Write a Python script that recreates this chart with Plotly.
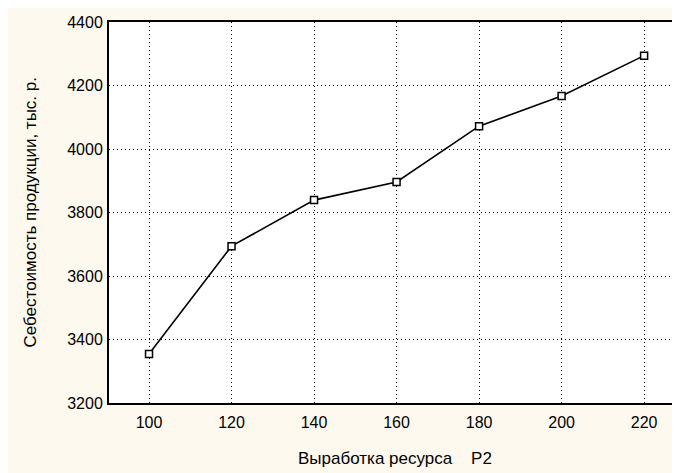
import plotly.graph_objects as go

x_vals = [100, 120, 140, 160, 180, 200, 220]
y_vals = [3354, 3694, 3839, 3896, 4072, 4167, 4294]

x_title = "Выработка ресурса\u00a0\u00a0\u00a0\u00a0P2"
y_title = "Себестоимость продукции, тыс. р."

# page body adds an 8px margin, so the figure is slightly smaller than the window
W, H = 672, 465
L, R, T, B = 101, 0, 14, 70
pw, ph = W - L - R, H - T - B

fig = go.Figure()
fig.add_trace(go.Scatter(
    x=x_vals, y=y_vals, mode="lines+markers",
    line=dict(color="black", width=1.6),
    marker=dict(symbol="square", size=7, color="white",
                line=dict(color="black", width=1.5)),
    showlegend=False, cliponaxis=False,
))

font = dict(family="Liberation Sans, Arial, sans-serif", size=16, color="black")
title_font = dict(family="Liberation Sans, Arial, sans-serif", size=17, color="black")

fig.update_layout(
    width=W, height=H,
    margin=dict(l=L, r=R, t=T, b=B),
    paper_bgcolor="#FEF9EF",
    plot_bgcolor="white",
    font=font,
    xaxis=dict(
        range=[90.3, 228.7], tick0=100, dtick=20,
        showgrid=True, gridcolor="black", gridwidth=1, griddash="1px,3px",
        showline=True, linecolor="black", linewidth=2, mirror=True,
        ticks="outside", ticklen=4, tickcolor="rgba(0,0,0,0)",
        zeroline=False, tickfont=font,
    ),
    yaxis=dict(
        range=[3200, 4400], tick0=3200, dtick=200,
        showgrid=True, gridcolor="black", gridwidth=1, griddash="1px,3px",
        showline=True, linecolor="black", linewidth=2, mirror=False,
        ticks="outside", ticklen=1, tickcolor="rgba(0,0,0,0)",
        zeroline=False, tickfont=font,
    ),
    annotations=[
        dict(text=x_title, xref="paper", yref="paper", x=0.5, y=(395 - 451) / ph,
             xanchor="center", yanchor="middle", showarrow=False, font=title_font),
        dict(text=y_title, xref="paper", yref="paper", x=(22 - L) / pw, y=0.5,
             xanchor="center", yanchor="middle", textangle=-90, showarrow=False,
             font=title_font),
    ],
)

fig.write_html("out.html")
